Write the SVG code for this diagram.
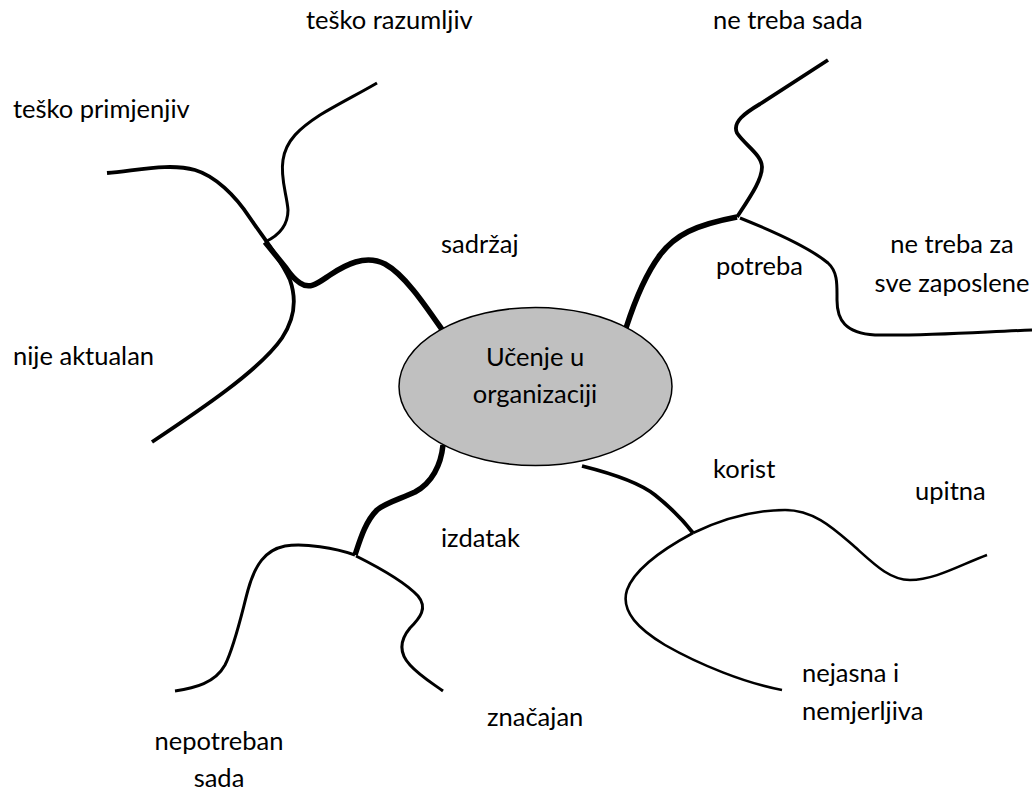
<svg xmlns="http://www.w3.org/2000/svg" width="1032" height="791" viewBox="0 0 1032 791">
<style>
text{font-family:Lato,"Open Sans","Liberation Sans",sans-serif;font-size:25.5px;fill:#000}
.c{text-anchor:middle}
path{fill:none;stroke:#000;stroke-linecap:butt;stroke-linejoin:round}
.k{stroke-width:5.5}
.m{stroke-width:3.8}
.t{stroke-width:3}
.s{stroke-width:2.6}
</style>
<rect width="1032" height="791" fill="#fff"/>
<g id="connectors">
<path class="m" d="M107,173 C140,170 170,163 195,170 C215,176 235,195 250,218 C265,240 280,258 290,280 C297,300 294,320 282,338 C260,370 200,410 152,442"/>
<path class="t" d="M265,242 C280,235 288,225 288,210 C287,195 280,178 283,160 C286,140 300,128 320,115 C340,103 360,93 377,83"/>
<path class="k" d="M443,331 C425,305 405,275 385,264 C365,254 345,265 330,275 C318,283 310,290 300,283 C294,279 290,274 286,268 L265,242"/>
<path class="k" d="M626,328 C635,300 645,275 660,255 C675,235 695,225 737,217"/>
<path class="m" d="M737,217 C750,197 762,180 762,167 C762,155 745,145 737,133 C732,122 745,113 760,104 L828,60"/>
<path class="t" d="M740,218 C770,230 810,248 828,263 C838,272 837,285 837,300 C837,320 845,333 875,335 C930,336 980,332 1032,330"/>
<path class="k" d="M443,445 C441,465 432,483 415,492 C400,499 385,503 377,510 C365,522 360,540 355,555"/>
<path class="t" d="M355,555 C335,548 305,543 285,546 C265,550 255,565 248,590 C242,612 235,645 225,665 C215,683 195,688 175,691"/>
<path class="t" d="M356,556 C380,568 405,582 418,596 C428,608 420,618 410,628 C400,640 398,652 410,665 C420,676 432,683 443,691"/>
<path class="m" d="M582,466 C610,473 640,483 655,495 C670,507 683,520 693,533"/>
<path class="s" d="M693,533 C720,520 750,510 785,510 C815,510 835,530 855,547 C875,565 890,580 910,580 C935,580 960,565 987,555"/>
<path class="s" d="M693,533 C665,548 635,568 627,590 C620,612 640,630 665,645 C700,665 745,683 782,690"/>
</g>
<g id="center">
<ellipse cx="535.5" cy="386.5" rx="136.5" ry="79" fill="#c0c0c0" stroke="#000" stroke-width="1.5"/>
<text class="c" x="535" y="366">Učenje u</text>
<text class="c" x="535" y="403">organizaciji</text>
</g>
<g id="l-sadrzaj"><text x="441" y="253">sadržaj</text></g>
<g id="l-tesko-razumljiv"><text x="306" y="29">teško razumljiv</text></g>
<g id="l-tesko-primjenjiv"><text x="13" y="118">teško primjenjiv</text></g>
<g id="l-nije-aktualan"><text x="13" y="365">nije aktualan</text></g>
<g id="l-potreba"><text x="716" y="275">potreba</text></g>
<g id="l-ne-treba-sada"><text x="713" y="29">ne treba sada</text></g>
<g id="l-ne-treba-za"><text class="c" x="952" y="253">ne treba za</text><text class="c" x="952" y="292">sve zaposlene</text></g>
<g id="l-korist"><text x="713" y="478">korist</text></g>
<g id="l-upitna"><text x="915" y="500">upitna</text></g>
<g id="l-nejasna"><text x="802" y="682">nejasna i</text><text x="802" y="720">nemjerljiva</text></g>
<g id="l-izdatak"><text x="441" y="547">izdatak</text></g>
<g id="l-znacajan"><text x="487" y="726">značajan</text></g>
<g id="l-nepotreban"><text class="c" x="219" y="750">nepotreban</text><text class="c" x="219" y="787">sada</text></g>
</svg>
